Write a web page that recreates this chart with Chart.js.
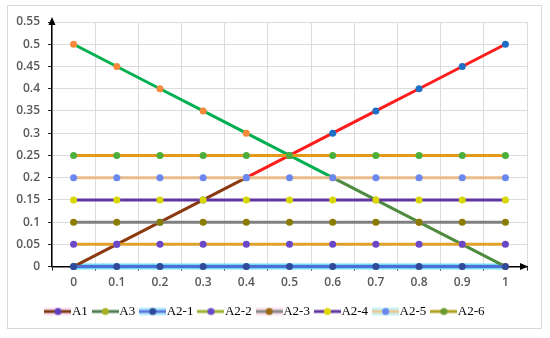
<!DOCTYPE html>
<html>
<head>
<meta charset="utf-8">
<script src="https://cdn.jsdelivr.net/npm/chart.js@4/dist/chart.umd.min.js"></script>
<style>
  html, body { margin: 0; padding: 0; background: #fff; }
  #box { position: absolute; left: 7px; top: 5px; width: 533px; height: 322px; border: 1px solid #d9d9d9; }
</style>
</head>
<body>
<div id="box"><canvas id="chart"></canvas></div>
<script>
const xLabels = ['0', '0.1', '0.2', '0.3', '0.4', '0.5', '0.6', '0.7', '0.8', '0.9', '1'];
const a1  = [0, 0.05, 0.1, 0.15, 0.2, 0.25, 0.3, 0.35, 0.4, 0.45, 0.5];
const a3  = [0.5, 0.45, 0.4, 0.35, 0.3, 0.25, 0.2, 0.15, 0.1, 0.05, 0];
const a21 = [0, 0, 0, 0, 0, 0, 0, 0, 0, 0, 0];
const a22 = [0.05, 0.05, 0.05, 0.05, 0.05, 0.05, 0.05, 0.05, 0.05, 0.05, 0.05];
const a23 = [0.1, 0.1, 0.1, 0.1, 0.1, 0.1, 0.1, 0.1, 0.1, 0.1, 0.1];
const a24 = [0.15, 0.15, 0.15, 0.15, 0.15, 0.15, 0.15, 0.15, 0.15, 0.15, 0.15];
const a25 = [0.2, 0.2, 0.2, 0.2, 0.2, 0.2, 0.2, 0.2, 0.2, 0.2, 0.2];
const a26 = [0.25, 0.25, 0.25, 0.25, 0.25, 0.25, 0.25, 0.25, 0.25, 0.25, 0.25];

// legend icon: short line with a dot in the middle
function makeIcon(lineColor, dotColor, halo) {
    const c = document.createElement('canvas');
    c.width = 27; c.height = 12;
    const g = c.getContext('2d');
    if (halo) {
        g.fillStyle = halo;
        g.fillRect(0, 2, 27, 8);
    }
    g.strokeStyle = lineColor;
    g.lineWidth = 3;
    g.beginPath(); g.moveTo(0, 6); g.lineTo(27, 6); g.stroke();
    g.fillStyle = dotColor;
    g.beginPath(); g.arc(13.5, 6, 3.5, 0, Math.PI * 2); g.fill();
    return c;
}

const legendItems = [
    ['A1', makeIcon('#7a3a12', '#6040c0', '#fde0f4')],
    ['A3', makeIcon('#4f7f4f', '#a8b020')],
    ['A2-1', makeIcon('#5a78e0', '#2f4a9a', '#b8eefa')],
    ['A2-2', makeIcon('#a0b030', '#6a48c8')],
    ['A2-3', makeIcon('#8a8a8a', '#9a6a10', '#fbe0ee')],
    ['A2-4', makeIcon('#6035a0', '#e0d800')],
    ['A2-5', makeIcon('#e8c898', '#6a88f0', '#c8f4f4')],
    ['A2-6', makeIcon('#b0a020', '#6a9a30')]
];

function flat(label, data, line, dot) {
    return {
        label: label, data: data, borderColor: line, borderWidth: 3,
        pointBackgroundColor: dot, pointBorderColor: dot, pointRadius: 3.5,
        pointBorderWidth: 0, order: 1, clip: false
    };
}

const arrows = {
    id: 'arrows',
    afterDraw(chart) {
        const {ctx, chartArea: a} = chart;
        ctx.save();
        ctx.fillStyle = '#000';
        ctx.beginPath();
        ctx.moveTo(a.left, a.top - 5);
        ctx.lineTo(a.left - 3.5, a.top + 3);
        ctx.lineTo(a.left + 3.5, a.top + 3);
        ctx.fill();
        ctx.beginPath();
        ctx.moveTo(a.right + 1, a.bottom);
        ctx.lineTo(a.right - 7, a.bottom - 3.5);
        ctx.lineTo(a.right - 7, a.bottom + 3.5);
        ctx.fill();
        ctx.restore();
    }
};

const tickFont = { family: 'Open Sans', size: 12, weight: '600' };

new Chart(document.getElementById('chart'), {
    type: 'line',
    data: {
        labels: xLabels,
        datasets: [
            flat('A2-1', a21, '#4f6fd8', '#2f4a9a'),
            flat('A2-2', a22, '#dea22a', '#6a48c8'),
            flat('A2-3', a23, '#808080', '#8a7c00'),
            flat('A2-4', a24, '#6035a0', '#d8d800'),
            flat('A2-5', a25, '#e8bc8c', '#6a88f0'),
            flat('A2-6', a26, '#e49a18', '#4caf3c'),
            {
                label: 'A1', data: a1, borderWidth: 3, order: 2, clip: false,
                borderColor: '#ff1c1c',
                segment: { borderColor: c => c.p0DataIndex < 4 ? '#8b3a10' : '#ff1c1c' },
                pointBackgroundColor: '#1f6fc4', pointRadius: 3.5, pointBorderWidth: 0
            },
            {
                label: 'A3', data: a3, borderWidth: 3, order: 2, clip: false,
                borderColor: '#00b050',
                segment: { borderColor: c => c.p0DataIndex < 6 ? '#00b050' : '#4e8b3e' },
                pointBackgroundColor: '#f7893a', pointRadius: 3.5, pointBorderWidth: 0
            },
            {
                label: 'glow', data: a21, borderColor: '#70daf5', borderWidth: 6,
                pointRadius: 0, order: 3, clip: false
            }
        ]
    },
    options: {
        responsive: true,
        maintainAspectRatio: false,
        animation: false,
        layout: { padding: { top: 16, right: 14, left: 0, bottom: 0 } },
        plugins: {
            tooltip: { enabled: false },
            legend: {
                position: 'bottom',
                labels: {
                    usePointStyle: true,
                    pointStyleWidth: 15,
                    padding: 10,
                    color: '#595959',
                    font: { family: 'Liberation Serif', size: 13 },
                    generateLabels: () => legendItems.map((it, i) => ({
                        text: it[0], pointStyle: it[1], hidden: false,
                        fillStyle: 'transparent', strokeStyle: 'transparent', lineWidth: 0,
                        datasetIndex: i
                    }))
                }
            }
        },
        scales: {
            x: {
                offset: true,
                grid: { offset: true, color: '#dcdcdc', tickColor: '#222', tickLength: 4 },
                border: { color: '#000', width: 1.5 },
                ticks: { color: '#595959', font: tickFont, padding: 5, maxRotation: 0 }
            },
            y: {
                min: 0,
                max: 0.55,
                afterFit: s => { s.width = 44; },
                grid: { color: '#dcdcdc', tickColor: '#222', tickLength: 4 },
                border: { color: '#000', width: 1.5 },
                ticks: { stepSize: 0.05, color: '#595959', font: tickFont, padding: 8,
                         callback: v => +v.toFixed(2) }
            }
        }
    },
    plugins: [arrows]
});
</script>
</body>
</html>
